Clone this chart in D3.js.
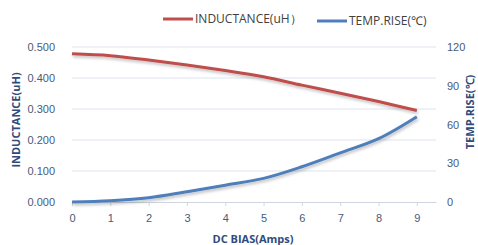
<!DOCTYPE html>
<html>
<head>
<meta charset="utf-8">
<script src="https://cdn.jsdelivr.net/npm/d3@7"></script>
<style>
  body { margin: 0; background: #fff; }
  svg { display: block; font-family: "Open Sans", "Liberation Sans", sans-serif; }
</style>
</head>
<body>
<div id="chart"></div>
<script>
// data
const amps = [0, 1, 2, 3, 4, 5, 6, 7, 8, 9];
const inductance = [0.478, 0.472, 0.458, 0.442, 0.424, 0.404, 0.377, 0.351, 0.324, 0.295];
const tempRise = [0, 1, 3.3, 8, 13, 18.3, 27.3, 38, 49, 66];
const leftTicks = [0, 0.1, 0.2, 0.3, 0.4, 0.5];
const rightTicks = [0, 30, 60, 90, 120];

const width = 478, height = 245;
const margin = { top: 47, right: 42, bottom: 43, left: 72 };

const svg = d3.select('#chart').append('svg')
  .attr('width', width)
  .attr('height', height);

const defs = svg.append('defs');
const f = defs.append('filter').attr('id', 'shadow')
  .attr('x', '-10%').attr('y', '-10%').attr('width', '120%').attr('height', '140%');
f.append('feDropShadow').attr('dx', 1).attr('dy', 2).attr('stdDeviation', 1.5)
  .attr('flood-color', '#000').attr('flood-opacity', 0.25);

const x = d3.scaleLinear().domain([0, 9.5]).range([margin.left, width - margin.right]);
const yL = d3.scaleLinear().domain([0, 0.5]).range([height - margin.bottom, margin.top]);
const yR = d3.scaleLinear().domain([0, 120]).range([height - margin.bottom, margin.top]);

const tickColor = '#4a5a78';
const titleColor = '#2f4b7c';

// gridlines
svg.append('g')
  .selectAll('line')
  .data(leftTicks.slice(1))
  .enter().append('line')
  .attr('x1', x(0)).attr('x2', x(9.5))
  .attr('y1', d => yL(d)).attr('y2', d => yL(d))
  .attr('stroke', '#dde4ef').attr('stroke-width', 1);

// bottom axis
const xAxis = svg.append('g')
  .attr('transform', `translate(0,${yL(0)})`)
  .call(d3.axisBottom(x).tickValues(amps).tickSize(4).tickSizeOuter(0).tickPadding(8).tickFormat(d3.format('d')));
xAxis.select('.domain').attr('stroke', '#d0d6e0');
xAxis.selectAll('.tick line').attr('stroke', '#d0d6e0');
xAxis.selectAll('text').attr('fill', tickColor).style('font-size', '11px');

// left axis
const yAxisL = svg.append('g')
  .attr('transform', `translate(${margin.left - 14},0)`)
  .call(d3.axisLeft(yL).tickValues(leftTicks).tickSize(0).tickFormat(d3.format('.3f')));
yAxisL.select('.domain').remove();
yAxisL.selectAll('text').attr('fill', tickColor).style('font-size', '11px');

// right axis
const yAxisR = svg.append('g')
  .attr('transform', `translate(${width - margin.right + 8},0)`)
  .call(d3.axisRight(yR).tickValues(rightTicks).tickSize(0));
yAxisR.select('.domain').remove();
yAxisR.selectAll('text').attr('fill', tickColor).style('font-size', '11px');

// lines
const lineL = d3.line()
  .x((d, i) => x(amps[i]))
  .y(d => yL(d))
  .curve(d3.curveCatmullRom);
const lineR = d3.line()
  .x((d, i) => x(amps[i]))
  .y(d => yR(d))
  .curve(d3.curveCatmullRom);

svg.append('path')
  .datum(tempRise)
  .attr('d', lineR)
  .attr('fill', 'none')
  .attr('stroke', '#4f7fba')
  .attr('stroke-width', 3)
  .attr('filter', 'url(#shadow)');

svg.append('path')
  .datum(inductance)
  .attr('d', lineL)
  .attr('fill', 'none')
  .attr('stroke', '#bf4e4b')
  .attr('stroke-width', 3)
  .attr('filter', 'url(#shadow)');

// axis titles
svg.append('text')
  .attr('transform', `translate(20,120) rotate(-90)`)
  .attr('text-anchor', 'middle')
  .attr('fill', titleColor)
  .style('font-size', '11px').style('font-weight', 'bold')
  .text('INDUCTANCE(uH)');

svg.append('text')
  .attr('transform', `translate(474,112) rotate(-90)`)
  .attr('text-anchor', 'middle')
  .attr('fill', titleColor)
  .style('font-size', '11px').style('font-weight', 'bold')
  .text('TEMP.RISE(℃)');

svg.append('text')
  .attr('x', 253).attr('y', 243)
  .attr('text-anchor', 'middle')
  .attr('fill', titleColor)
  .style('font-size', '11px').style('font-weight', 'bold')
  .text('DC BIAS(Amps)');

// legend
const legend = [
  { name: 'INDUCTANCE(uH）', color: '#bf4e4b', x: 163, y: 19 },
  { name: 'TEMP.RISE(℃)', color: '#4f7fba', x: 317, y: 21 }
];
const lg = svg.append('g').selectAll('g').data(legend).enter().append('g');
lg.append('line')
  .attr('x1', d => d.x).attr('x2', d => d.x + 30)
  .attr('y1', d => d.y).attr('y2', d => d.y)
  .attr('stroke', d => d.color).attr('stroke-width', 3);
lg.append('text')
  .attr('x', d => d.x + 32).attr('y', d => d.y + 4)
  .attr('fill', '#404040')
  .style('font-size', '12px')
  .text(d => d.name);
</script>
</body>
</html>
